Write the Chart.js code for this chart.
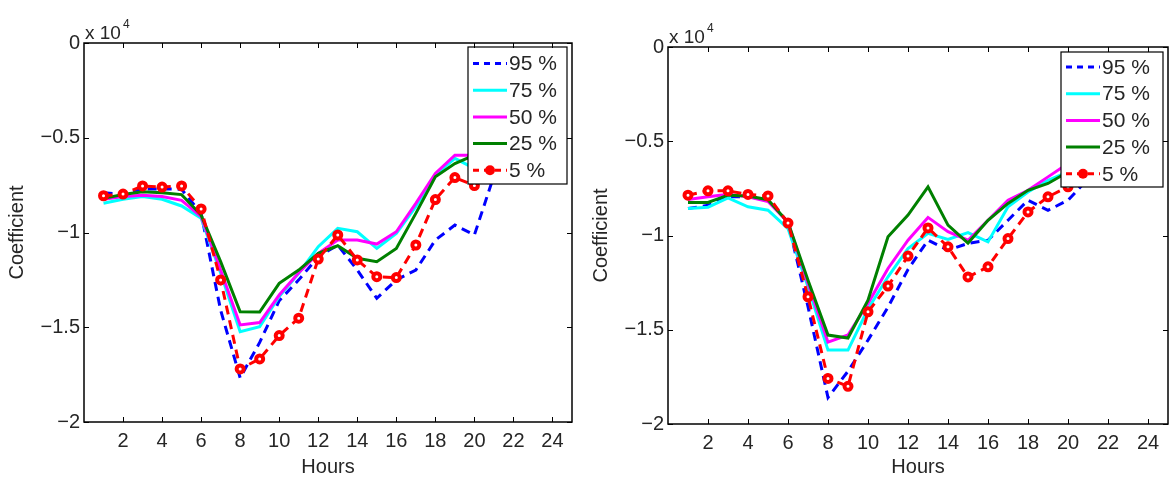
<!DOCTYPE html>
<html>
<head>
<meta charset="utf-8">
<script src="https://cdn.jsdelivr.net/npm/chart.js@4/dist/chart.umd.min.js"></script>
<style>
  html, body { margin: 0; padding: 0; background: #fff; }
  #wrap { position: relative; width: 1176px; height: 484px; overflow: hidden; }
  .pane { position: absolute; top: 0; width: 588px; height: 484px; }
</style>
</head>
<body>
<div id="wrap">
  <div class="pane" style="left:0"><canvas id="c1" width="588" height="484"></canvas></div>
  <div class="pane" style="left:588px"><canvas id="c2" width="588" height="484"></canvas></div>
</div>
<script>
// ---- Data (values in units of 10^4) ----
const hours = [1,2,3,4,5,6,7,8,9,10,11,12,13,14,15,16,17,18,19,20,21];
const seriesNames = ['95 %', '75 %', '50 %', '25 %', '5 %'];
const xTickValues = [2,4,6,8,10,12,14,16,18,20,22,24];
const yTickValues = [-2,-1.5,-1,-0.5,0];
const yTickLabels = ['\u22122','\u22121.5','\u22121','\u22120.5','0'];

// Left panel
const left95 = [-0.79,-0.80,-0.771,-0.77,-0.772,-0.899,-1.41,-1.767,-1.58,-1.36,-1.25,-1.128,-1.066,-1.198,-1.347,-1.25,-1.198,-1.04,-0.961,-1.013,-0.70];
const left75 = [-0.846,-0.825,-0.81,-0.825,-0.86,-0.925,-1.214,-1.523,-1.497,-1.338,-1.215,-1.075,-0.978,-0.996,-1.084,-1.005,-0.864,-0.697,-0.609,-0.662,-0.60];
const left50 = [-0.825,-0.81,-0.803,-0.81,-0.83,-0.916,-1.198,-1.488,-1.475,-1.33,-1.212,-1.11,-1.04,-1.04,-1.061,-0.996,-0.846,-0.688,-0.592,-0.592,-0.55];
const left25 = [-0.82,-0.80,-0.785,-0.79,-0.80,-0.908,-1.154,-1.418,-1.42,-1.268,-1.198,-1.11,-1.07,-1.136,-1.154,-1.084,-0.899,-0.706,-0.636,-0.592,-0.55];
const left5  = [-0.806,-0.797,-0.754,-0.76,-0.754,-0.876,-1.25,-1.72,-1.667,-1.544,-1.452,-1.14,-1.013,-1.145,-1.233,-1.238,-1.066,-0.826,-0.71,-0.752,-0.65];

// Right panel
const right95 = [-0.857,-0.84,-0.795,-0.795,-0.81,-0.93,-1.378,-1.86,-1.72,-1.555,-1.38,-1.18,-1.025,-1.078,-1.042,-1.025,-0.919,-0.813,-0.866,-0.813,-0.70];
const right75 = [-0.857,-0.85,-0.80,-0.848,-0.866,-0.963,-1.272,-1.608,-1.608,-1.39,-1.219,-1.069,-0.989,-1.021,-0.985,-1.034,-0.848,-0.769,-0.707,-0.663];
const right50 = [-0.809,-0.795,-0.781,-0.795,-0.82,-0.93,-1.254,-1.566,-1.528,-1.36,-1.175,-1.025,-0.904,-0.98,-1.025,-0.919,-0.813,-0.76,-0.689,-0.618];
const right25 = [-0.825,-0.825,-0.786,-0.79,-0.81,-0.93,-1.237,-1.528,-1.544,-1.343,-1.007,-0.892,-0.742,-0.945,-1.04,-0.919,-0.83,-0.76,-0.724,-0.663];
const right5  = [-0.786,-0.763,-0.763,-0.782,-0.79,-0.934,-1.325,-1.758,-1.80,-1.405,-1.268,-1.109,-0.96,-1.06,-1.22,-1.166,-1.016,-0.875,-0.795,-0.742];

// ---- Styles ----
const FONT = "'Liberation Sans', Arial, Helvetica, sans-serif";
const FS = 20;
const styles = [
  { color: '#0000ff', dash: [9, 6], points: false, width: 3 },
  { color: '#00ffff', dash: [], points: false, width: 3 },
  { color: '#ff00ff', dash: [], points: false, width: 3 },
  { color: '#008000', dash: [], points: false, width: 3 },
  { color: '#ff0000', dash: [9, 6], points: true, width: 3 }
];

function toPoints(vals) { return vals.map((v, i) => ({ x: hours[i], y: v })); }

const matlabFrame = {
  id: 'matlabFrame',
  afterDatasetsDraw(chart, args, o) {
    const { ctx, chartArea: a, scales: { x, y } } = chart;
    ctx.save();
    // Legend box
    const bw = o.legendW, bh = o.legendH;
    const bx = a.right - o.legendRight - bw, by = a.top + o.legendTop;
    ctx.fillStyle = '#fff';
    ctx.fillRect(bx, by, bw, bh);
    ctx.strokeStyle = '#000'; ctx.lineWidth = 1.2;
    ctx.strokeRect(bx, by, bw, bh);
    ctx.font = '21px ' + FONT;
    ctx.textBaseline = 'middle'; ctx.textAlign = 'left';
    seriesNames.forEach((name, i) => {
      const st = styles[i];
      const ly = by + o.legendFirst + i * o.legendStep;
      ctx.strokeStyle = st.color; ctx.lineWidth = st.width;
      ctx.setLineDash(st.dash.length ? [6, 5] : []);
      ctx.beginPath(); ctx.moveTo(bx + 5, ly); ctx.lineTo(bx + 39, ly); ctx.stroke();
      ctx.setLineDash([]);
      if (st.points) {
        ctx.beginPath(); ctx.arc(bx + 22, ly, 5, 0, Math.PI * 2);
        ctx.fillStyle = st.color; ctx.fill();
      }
      ctx.fillStyle = '#262626';
      ctx.fillText(name, bx + 41, ly + 1);
    });
    // Axes box
    ctx.strokeStyle = '#000'; ctx.lineWidth = 1.5;
    ctx.strokeRect(a.left, a.top, a.width, a.height);
    // Inward ticks
    ctx.lineWidth = 1;
    const tl = 5;
    xTickValues.forEach(v => {
      const px = Math.round(x.getPixelForValue(v)) + 0.5;
      ctx.beginPath();
      ctx.moveTo(px, a.bottom); ctx.lineTo(px, a.bottom - tl);
      ctx.moveTo(px, a.top); ctx.lineTo(px, a.top + tl);
      ctx.stroke();
    });
    yTickValues.forEach(v => {
      const py = Math.round(y.getPixelForValue(v)) + 0.5;
      ctx.beginPath();
      ctx.moveTo(a.left, py); ctx.lineTo(a.left + tl, py);
      ctx.moveTo(a.right, py); ctx.lineTo(a.right - tl, py);
      ctx.stroke();
    });
    // Exponent label
    ctx.fillStyle = '#262626';
    ctx.textBaseline = 'alphabetic'; ctx.textAlign = 'left';
    ctx.font = '19px ' + FONT;
    ctx.fillText('x 10', a.left + 1, a.top - 4);
    const w = ctx.measureText('x 10').width;
    ctx.font = '12px ' + FONT;
    ctx.fillText('4', a.left + 1 + w + 2, a.top - 15);
    ctx.restore();
  }
};

function makeChart(id, data, cfg) {
  const datasets = data.map((vals, i) => {
    const st = styles[i];
    return {
      label: seriesNames[i],
      data: toPoints(vals),
      borderColor: st.color,
      backgroundColor: st.color,
      borderWidth: st.width,
      borderDash: st.dash,
      pointRadius: st.points ? 3.5 : 0,
      pointBorderWidth: 4,
      pointBorderColor: st.color,
      pointBackgroundColor: '#fff',
      pointStyle: 'circle',
      tension: 0,
      order: 5 - i,
      clip: 2
    };
  });
  return new Chart(document.getElementById(id), {
    type: 'line',
    data: { datasets },
    options: {
      responsive: false,
      animation: false,
      events: [],
      layout: { padding: { top: cfg.top, right: cfg.right, left: 0, bottom: 0 } },
      plugins: {
        legend: { display: false },
        tooltip: { enabled: false },
        matlabFrame: cfg.legend
      },
      scales: {
        x: {
          type: 'linear', min: 0, max: 25,
          grid: { display: false, drawTicks: false },
          border: { display: false },
          afterBuildTicks: s => { s.ticks = xTickValues.map(v => ({ value: v })); },
          afterFit: s => { s.height = cfg.xHeight; },
          ticks: { color: '#262626', font: { family: FONT, size: FS }, padding: 7, maxRotation: 0, autoSkip: false,
                   callback: v => String(v) },
          title: { display: true, text: 'Hours', color: '#262626', font: { family: FONT, size: FS }, padding: { top: 0, bottom: 5 } }
        },
        y: {
          type: 'linear', min: -2, max: 0,
          grid: { display: false, drawTicks: false },
          border: { display: false },
          afterBuildTicks: s => { s.ticks = yTickValues.map(v => ({ value: v })); },
          afterFit: s => { s.width = cfg.yWidth; },
          ticks: { color: '#262626', font: { family: FONT, size: FS }, padding: 4,
                   callback: v => yTickLabels[yTickValues.indexOf(v)] },
          title: { display: true, text: 'Coefficient', color: '#262626', font: { family: FONT, size: FS }, padding: { top: cfg.titlePad, bottom: 0 } }
        }
      }
    },
    plugins: [matlabFrame]
  });
}

makeChart('c1', [left95, left75, left50, left25, left5], {
  top: 43, right: 16, xHeight: 62, yWidth: 84, titlePad: 5,
  legend: { legendW: 99, legendH: 137, legendRight: 5, legendTop: 4, legendFirst: 16.5, legendStep: 26.7 }
});
makeChart('c2', [right95, right75, right50, right25, right5], {
  top: 47, right: 6, xHeight: 60, yWidth: 80, titlePad: 1,
  legend: { legendW: 102, legendH: 135, legendRight: 5, legendTop: 5, legendFirst: 15, legendStep: 26.7 }
});
</script>
</body>
</html>
